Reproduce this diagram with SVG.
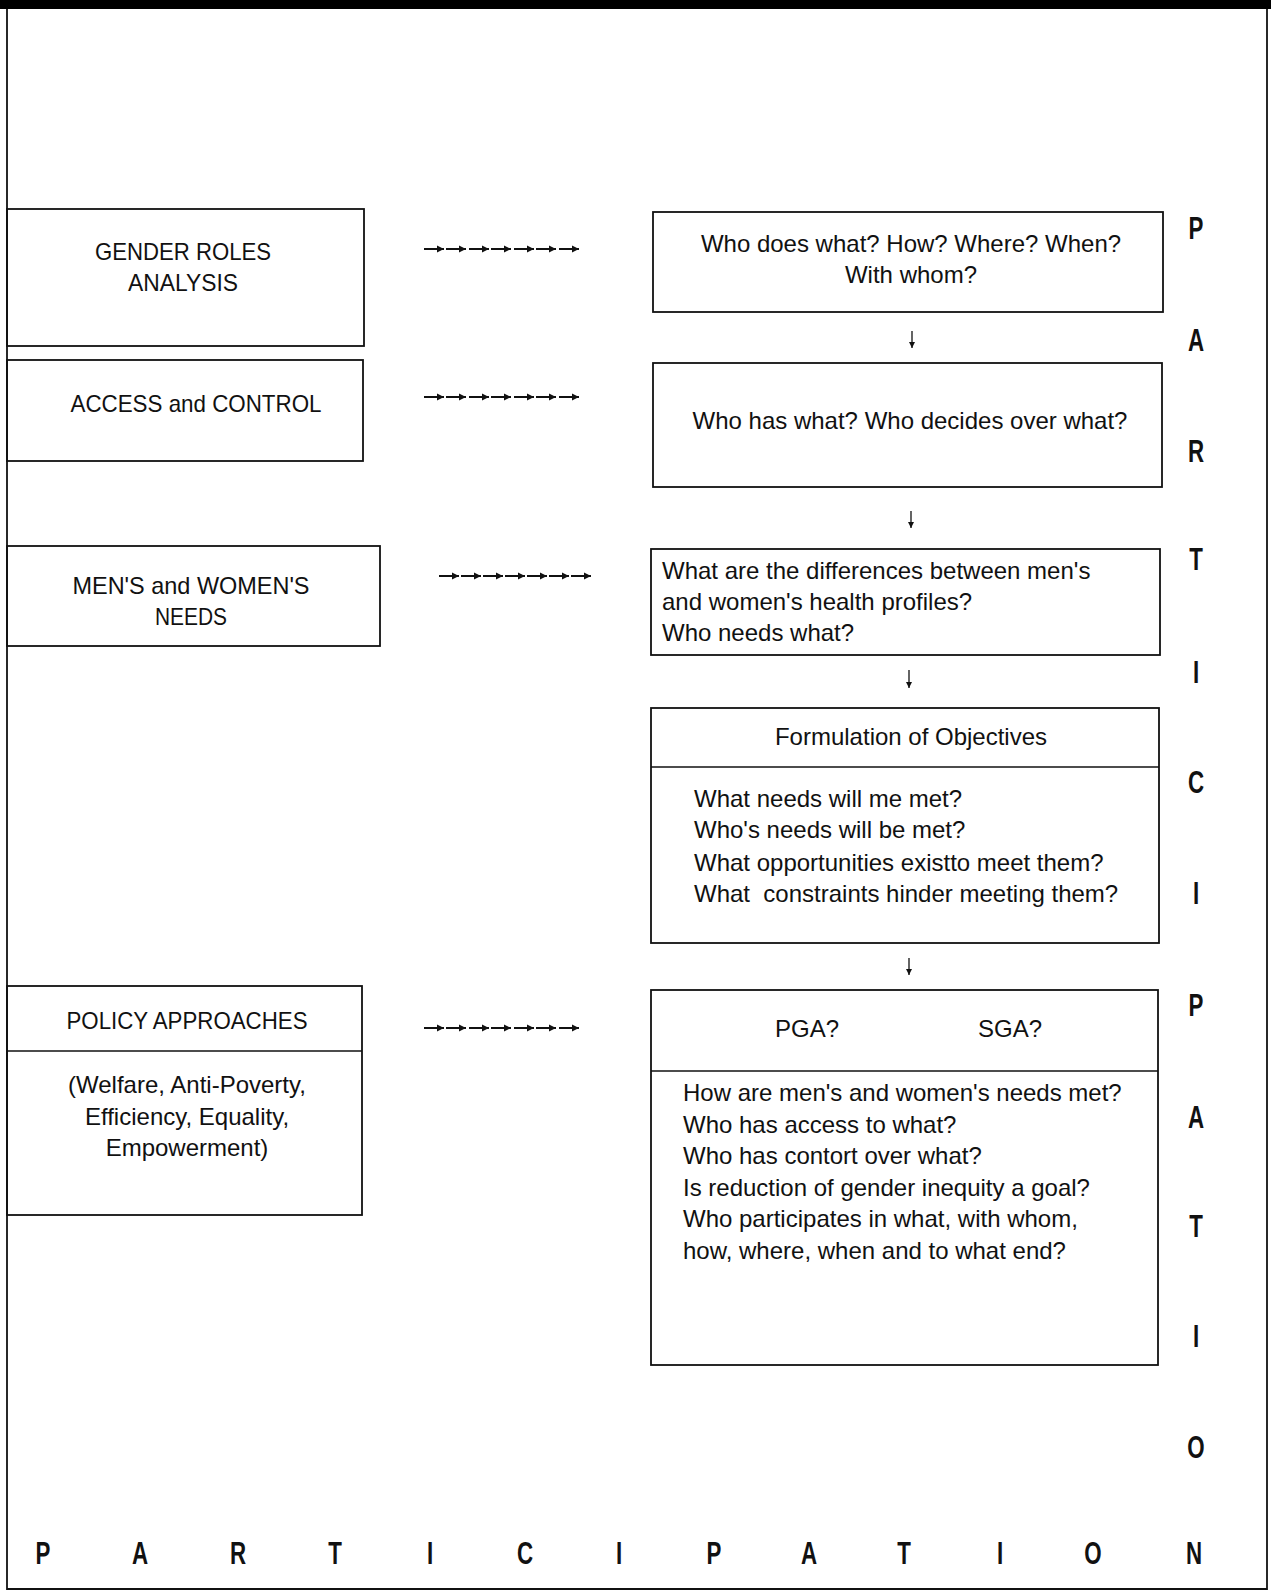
<svg xmlns="http://www.w3.org/2000/svg" width="1271" height="1592" viewBox="0 0 1271 1592">
<style>
.box{fill:none;stroke:#111;stroke-width:1.8}
.div{stroke:#111;stroke-width:1.5}
.t{font-family:"Liberation Sans",Arial,sans-serif;font-size:24px;fill:#111}
.c{text-anchor:middle}
.b{font-family:"Liberation Sans",Arial,sans-serif;font-size:31px;font-weight:bold;fill:#111;text-anchor:middle}
.ar{stroke:#111;stroke-width:2;marker-end:url(#ah)}
.dn{stroke:#111;stroke-width:1.3;marker-end:url(#ahd)}
</style>
<defs>
<marker id="ah" markerWidth="8" markerHeight="8" refX="7" refY="4" orient="auto" markerUnits="userSpaceOnUse">
<path d="M0,0.5 L7,4 L0,7.5 Z" fill="#111"/>
</marker>
<marker id="ahd" markerWidth="8" markerHeight="8" refX="6" refY="3.5" orient="auto" markerUnits="userSpaceOnUse">
<path d="M0,0.5 L6,3.5 L0,6.5 Z" fill="#111"/>
</marker>
</defs>
<rect width="1271" height="1592" fill="#fff"/>
<g id="frame">
<rect x="0" y="0" width="1271" height="9" fill="#000"/>
<line x1="7" y1="9" x2="7" y2="1590" stroke="#111" stroke-width="1.8"/>
<line x1="1267" y1="9" x2="1267" y2="1590" stroke="#111" stroke-width="1.8"/>
<line x1="7" y1="1589" x2="1267" y2="1589" stroke="#111" stroke-width="1.8"/>
</g>
<g id="gender-roles">
<rect class="box" x="7" y="209" width="357" height="137"/>
<text class="t c" x="183" y="260" textLength="176" lengthAdjust="spacingAndGlyphs">GENDER ROLES</text>
<text class="t c" x="183" y="291" textLength="110" lengthAdjust="spacingAndGlyphs">ANALYSIS</text>
</g>
<g id="access-control">
<rect class="box" x="7" y="360" width="356" height="101"/>
<text class="t c" x="196" y="412" textLength="251" lengthAdjust="spacingAndGlyphs">ACCESS and CONTROL</text>
</g>
<g id="needs">
<rect class="box" x="7" y="546" width="373" height="100"/>
<text class="t c" x="191" y="594" textLength="237" lengthAdjust="spacingAndGlyphs">MEN'S and WOMEN'S</text>
<text class="t c" x="191" y="625" textLength="72" lengthAdjust="spacingAndGlyphs">NEEDS</text>
</g>
<g id="policy">
<rect class="box" x="7" y="986" width="355" height="229"/>
<line class="div" x1="7" y1="1051" x2="362" y2="1051"/>
<text class="t c" x="187" y="1029" textLength="241" lengthAdjust="spacingAndGlyphs">POLICY APPROACHES</text>
<text class="t c" x="187" y="1093">(Welfare, Anti-Poverty,</text>
<text class="t c" x="187" y="1125">Efficiency, Equality,</text>
<text class="t c" x="187" y="1156">Empowerment)</text>
</g>
<g id="q-who-does">
<rect class="box" x="653" y="212" width="510" height="100"/>
<text class="t c" x="911" y="252">Who does what? How? Where? When?</text>
<text class="t c" x="911" y="283">With whom?</text>
</g>
<g id="q-who-has">
<rect class="box" x="653" y="363" width="509" height="124"/>
<text class="t c" x="910" y="429">Who has what? Who decides over what?</text>
</g>
<g id="q-differences">
<rect class="box" x="651" y="549" width="509" height="106"/>
<text class="t" x="662" y="579">What are the differences between men's</text>
<text class="t" x="662" y="610">and women's health profiles?</text>
<text class="t" x="662" y="641">Who needs what?</text>
</g>
<g id="objectives">
<rect class="box" x="651" y="708" width="508" height="235"/>
<line class="div" x1="651" y1="767" x2="1159" y2="767"/>
<text class="t c" x="911" y="745">Formulation of Objectives</text>
<text class="t" x="694" y="807">What needs will me met?</text>
<text class="t" x="694" y="838">Who's needs will be met?</text>
<text class="t" x="694" y="871">What opportunities existto meet them?</text>
<text class="t" x="694" y="902" style="white-space:pre">What  constraints hinder meeting them?</text>
</g>
<g id="pga-sga">
<rect class="box" x="651" y="990" width="507" height="375"/>
<line class="div" x1="651" y1="1071" x2="1158" y2="1071"/>
<text class="t c" x="807" y="1037">PGA?</text>
<text class="t c" x="1010" y="1037">SGA?</text>
<text class="t" x="683" y="1101">How are men's and women's needs met?</text>
<text class="t" x="683" y="1133">Who has access to what?</text>
<text class="t" x="683" y="1164">Who has contort over what?</text>
<text class="t" x="683" y="1196">Is reduction of gender inequity a goal?</text>
<text class="t" x="683" y="1227">Who participates in what, with whom,</text>
<text class="t" x="683" y="1259">how, where, when and to what end?</text>
</g>
<g id="connectors">
<line class="ar" x1="424" y1="249" x2="444" y2="249"/>
<line class="ar" x1="446" y1="249" x2="466" y2="249"/>
<line class="ar" x1="469" y1="249" x2="489" y2="249"/>
<line class="ar" x1="491" y1="249" x2="511" y2="249"/>
<line class="ar" x1="514" y1="249" x2="534" y2="249"/>
<line class="ar" x1="536" y1="249" x2="556" y2="249"/>
<line class="ar" x1="559" y1="249" x2="579" y2="249"/>
<line class="ar" x1="424" y1="397" x2="444" y2="397"/>
<line class="ar" x1="446" y1="397" x2="466" y2="397"/>
<line class="ar" x1="469" y1="397" x2="489" y2="397"/>
<line class="ar" x1="491" y1="397" x2="511" y2="397"/>
<line class="ar" x1="514" y1="397" x2="534" y2="397"/>
<line class="ar" x1="536" y1="397" x2="556" y2="397"/>
<line class="ar" x1="559" y1="397" x2="579" y2="397"/>
<line class="ar" x1="439" y1="576" x2="459" y2="576"/>
<line class="ar" x1="461" y1="576" x2="481" y2="576"/>
<line class="ar" x1="483" y1="576" x2="503" y2="576"/>
<line class="ar" x1="505" y1="576" x2="525" y2="576"/>
<line class="ar" x1="527" y1="576" x2="547" y2="576"/>
<line class="ar" x1="549" y1="576" x2="569" y2="576"/>
<line class="ar" x1="571" y1="576" x2="591" y2="576"/>
<line class="ar" x1="424" y1="1028" x2="444" y2="1028"/>
<line class="ar" x1="446" y1="1028" x2="466" y2="1028"/>
<line class="ar" x1="469" y1="1028" x2="489" y2="1028"/>
<line class="ar" x1="491" y1="1028" x2="511" y2="1028"/>
<line class="ar" x1="514" y1="1028" x2="534" y2="1028"/>
<line class="ar" x1="536" y1="1028" x2="556" y2="1028"/>
<line class="ar" x1="559" y1="1028" x2="579" y2="1028"/>
<line class="dn" x1="912" y1="331" x2="912" y2="348"/>
<line class="dn" x1="911" y1="511" x2="911" y2="528"/>
<line class="dn" x1="909" y1="670" x2="909" y2="688"/>
<line class="dn" x1="909" y1="958" x2="909" y2="975"/>
</g>
<g id="participation-vertical">
<text class="b" transform="translate(1196,239) scale(0.72,1)">P</text>
<text class="b" transform="translate(1196,351) scale(0.72,1)">A</text>
<text class="b" transform="translate(1196,462) scale(0.72,1)">R</text>
<text class="b" transform="translate(1196,570) scale(0.72,1)">T</text>
<text class="b" transform="translate(1196,683) scale(0.72,1)">I</text>
<text class="b" transform="translate(1196,793) scale(0.72,1)">C</text>
<text class="b" transform="translate(1196,904) scale(0.72,1)">I</text>
<text class="b" transform="translate(1196,1016) scale(0.72,1)">P</text>
<text class="b" transform="translate(1196,1128) scale(0.72,1)">A</text>
<text class="b" transform="translate(1196,1237) scale(0.72,1)">T</text>
<text class="b" transform="translate(1196,1347) scale(0.72,1)">I</text>
<text class="b" transform="translate(1196,1458) scale(0.72,1)">O</text>
</g>
<g id="participation-horizontal">
<text class="b" transform="translate(43,1564) scale(0.72,1)">P</text>
<text class="b" transform="translate(140,1564) scale(0.72,1)">A</text>
<text class="b" transform="translate(238,1564) scale(0.72,1)">R</text>
<text class="b" transform="translate(335,1564) scale(0.72,1)">T</text>
<text class="b" transform="translate(430,1564) scale(0.72,1)">I</text>
<text class="b" transform="translate(525,1564) scale(0.72,1)">C</text>
<text class="b" transform="translate(619,1564) scale(0.72,1)">I</text>
<text class="b" transform="translate(714,1564) scale(0.72,1)">P</text>
<text class="b" transform="translate(809,1564) scale(0.72,1)">A</text>
<text class="b" transform="translate(904,1564) scale(0.72,1)">T</text>
<text class="b" transform="translate(1000,1564) scale(0.72,1)">I</text>
<text class="b" transform="translate(1093,1564) scale(0.72,1)">O</text>
<text class="b" transform="translate(1194,1564) scale(0.72,1)">N</text>
</g>
</svg>
